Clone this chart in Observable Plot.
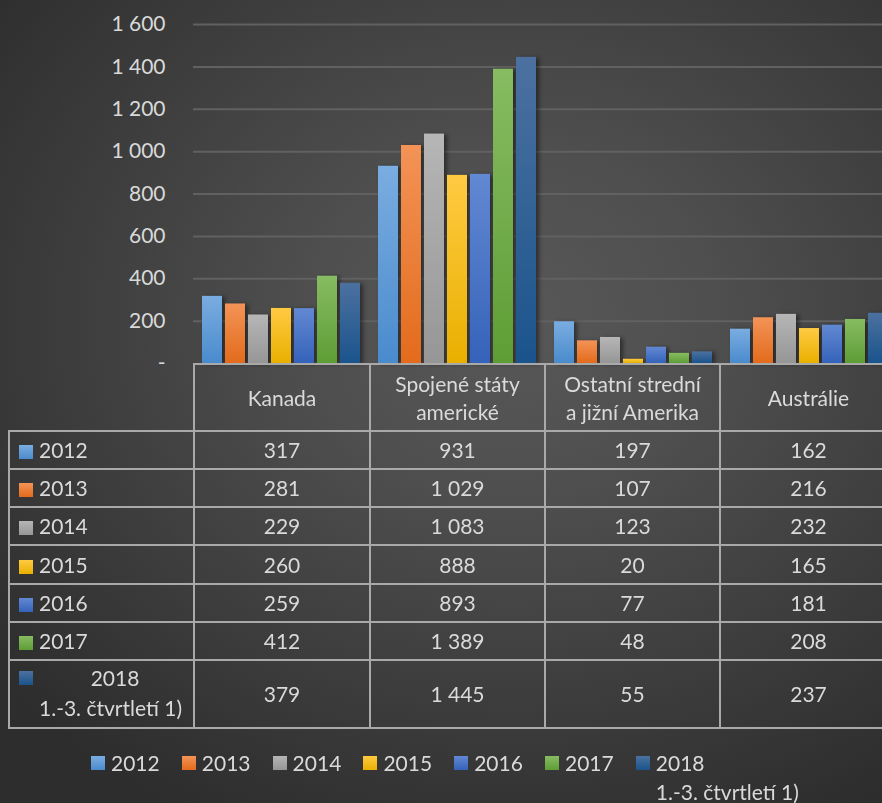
<!DOCTYPE html>
<html><head><meta charset="utf-8">
<script src="https://cdn.jsdelivr.net/npm/d3@7"></script>
<script src="https://cdn.jsdelivr.net/npm/@observablehq/plot@0.6"></script>
<style>
html,body{margin:0;padding:0;overflow:hidden;background:#2e2e2e}
#wrap{position:relative;width:882px;height:803px;overflow:hidden;
  background:radial-gradient(ellipse 75% 70% at 58% 40%, #585858 0%, #4f4f4f 30%, #3e3e3e 65%, #2d2d2d 100%);
  font-family:Lato,"Open Sans",sans-serif;color:#dadada}
#chart{position:absolute;left:0;top:0}
#chart svg{max-width:none !important;overflow:visible}
#chart svg g[aria-label="bar"]{filter:drop-shadow(3px 1px 2px rgba(0,0,0,0.45))}
table.dt{position:absolute;left:8px;top:363px;border-collapse:collapse;table-layout:fixed;width:888px;font-size:21px;color:#dadada}
table.dt td{border:2px solid #a9a9a9;text-align:center;padding:0;line-height:28px;overflow:visible}
table.dt td.blank{border-top:none;border-left:none}
table.dt td.lab{text-align:left;padding-left:9px;position:relative}
.sq{display:inline-block;width:14px;height:14px;margin-right:6px;vertical-align:-1px}
.legend{position:absolute;top:748px;left:0;font-size:21px;color:#dadada}
.legend .it{position:absolute;white-space:nowrap;line-height:29px}
</style></head><body><div id="wrap"><div id="chart"></div></div>
<script>
// ---- data ----
const regions = ["Kanada", "Spojené státy americké", "Ostatní strední a jižní Amerika", "Austrálie"];
const regionHeader = [["Kanada"], ["Spojené státy", "americké"], ["Ostatní strední", "a jižní Amerika"], ["Austrálie"]];
const years = ["2012", "2013", "2014", "2015", "2016", "2017", "2018"];
const yearLabels = ["2012", "2013", "2014", "2015", "2016", "2017", "2018 1.-3. čtvrtletí 1)"];
const v2012 = [317, 931, 197, 162];
const v2013 = [281, 1029, 107, 216];
const v2014 = [229, 1083, 123, 232];
const v2015 = [260, 888, 20, 165];
const v2016 = [259, 893, 77, 181];
const v2017 = [412, 1389, 48, 208];
const v2018 = [379, 1445, 55, 237];
const series = [v2012, v2013, v2014, v2015, v2016, v2017, v2018];
const yTicks = [0, 200, 400, 600, 800, 1000, 1200, 1400, 1600];
const colorsTop = ["#7aade1", "#f39357", "#b6b6b6", "#ffca42", "#6288d2", "#87bc62", "#4c71a0"];
const colorsBottom = ["#4a8bcd", "#e36b1c", "#969696", "#e9b000", "#3563ba", "#5e9d35", "#1a548c"];

const data = regions.flatMap((r, i) => years.map((y, j) => ({region: r, year: y, value: series[j][i]})));
const fmt = d => d === 0 ? "-" : String(d).replace(/\B(?=(\d{3})+(?!\d))/g, " ");

const plot = Plot.plot({
  width: 897,
  height: 366,
  marginTop: 24,
  marginBottom: 3,
  marginLeft: 193,
  marginRight: 0,
  style: {background: "transparent", color: "#d9d9d9", fontSize: "21px", fontFamily: "Lato, 'Open Sans', sans-serif", maxWidth: "none", overflow: "visible"},
  facet: {data, x: "region"},
  fx: {domain: regions, padding: 0, axis: null, label: null},
  x: {domain: years, paddingInner: 0.13, paddingOuter: 0.39, axis: null, label: null},
  y: {domain: [0, 1600], ticks: yTicks, tickFormat: fmt, tickSize: 0, tickPadding: 28, label: null},
  color: {domain: years, range: years.map((y, j) => `url(#grad${j})`)},
  marks: [
    Plot.ruleY(yTicks.filter(d => d > 0), {stroke: "#616161", strokeWidth: 2}),
    Plot.barY(data, {x: "year", y: "value", fill: "year"})
  ]
});
// gradient defs
const ns = "http://www.w3.org/2000/svg";
const defs = document.createElementNS(ns, "defs");
years.forEach((y, j) => {
  const g = document.createElementNS(ns, "linearGradient");
  g.setAttribute("id", `grad${j}`);
  g.setAttribute("x1", "0"); g.setAttribute("y1", "0"); g.setAttribute("x2", "0"); g.setAttribute("y2", "1");
  [[0, colorsTop[j]], [1, colorsBottom[j]]].forEach(([o, c]) => {
    const s = document.createElementNS(ns, "stop");
    s.setAttribute("offset", o); s.setAttribute("stop-color", c);
    g.appendChild(s);
  });
  defs.appendChild(g);
});
plot.insertBefore(defs, plot.firstChild);
plot.style.maxWidth = "none";
document.getElementById("chart").appendChild(plot);

// ---- data table ----
const wrap = document.getElementById("wrap");
const colW = [185, 176, 175, 175, 177];
const rowH = [67, 38, 38, 38, 39, 38, 38, 68];
const sqStyle = j => `background:linear-gradient(${colorsTop[j]}, ${colorsBottom[j]})`;
let html = `<table class="dt"><colgroup>${colW.map(w => `<col style="width:${w}px">`).join("")}</colgroup>`;
html += `<tr style="height:${rowH[0]}px"><td class="blank"></td>${regionHeader.map(h => `<td>${h.join("<br>")}</td>`).join("")}</tr>`;
years.forEach((y, j) => {
  let lab;
  if (j === 6) {
    lab = `<div style="position:relative;height:64px"><span class="sq" style="position:absolute;left:0;top:9px;${sqStyle(j)}"></span><div style="position:absolute;left:20px;top:2px;width:152px;text-align:center">2018</div><div style="position:absolute;left:20px;top:32px;white-space:nowrap">1.-3. čtvrtletí 1)</div></div>`;
  } else {
    lab = `<span class="sq" style="${sqStyle(j)}"></span>${y}`;
  }
  html += `<tr style="height:${rowH[j + 1]}px"><td class="lab">${lab}</td>${series[j].map(v => `<td>${fmt(v)}</td>`).join("")}</tr>`;
});
html += `</table>`;
wrap.insertAdjacentHTML("beforeend", html);

// ---- legend ----
let lg = `<div class="legend">`;
years.forEach((y, j) => {
  const left = 91 + j * 90.8;
  const text = j === 6 ? `2018<br>1.-3. čtvrtletí 1)` : y;
  lg += `<div class="it" style="left:${left}px"><span class="sq" style="position:absolute;left:0;top:8px;${sqStyle(j)}"></span><div style="margin-left:20px">${text}</div></div>`;
});
lg += `</div>`;
wrap.insertAdjacentHTML("beforeend", lg);
</script></body></html>
